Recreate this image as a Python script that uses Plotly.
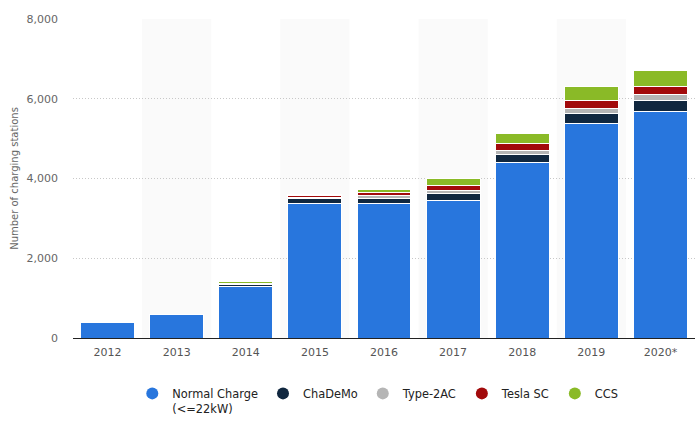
import plotly.graph_objects as go

years = ["2012", "2013", "2014", "2015", "2016", "2017", "2018", "2019", "2020*"]
normal = [400, 600, 1300, 3380, 3380, 3450, 4400, 5380, 5680]
chademo = [0, 0, 40, 110, 120, 175, 200, 250, 275]
type2ac = [0, 0, 15, 40, 70, 75, 100, 125, 150]
tesla = [0, 0, 15, 40, 80, 125, 175, 200, 200]
ccs = [0, 0, 40, 40, 70, 175, 250, 350, 400]

series = [
    ("Normal Charge<br>(<=22kW)", normal, "#2876dd"),
    ("ChaDeMo", chademo, "#10273f"),
    ("Type-2AC", type2ac, "#b5b5b5"),
    ("Tesla SC", tesla, "#a20a0b"),
    ("CCS", ccs, "#8aba27"),
]

fig = go.Figure()
for name, vals, col in series:
    fig.add_trace(go.Bar(x=years, y=vals, name=name, marker=dict(color=col, line=dict(color="white", width=1)),
                         width=0.78, showlegend=False))
for name, vals, col in series:
    fig.add_trace(go.Scatter(x=[None], y=[None], mode="markers", name=name,
                             marker=dict(color=col, size=12, symbol="circle")))

shapes = []
for i in range(len(years)):
    if i % 2 == 1:
        shapes.append(dict(type="rect", xref="x", yref="paper", x0=i - 0.5, x1=i + 0.5, y0=0, y1=1,
                           fillcolor="#fafafa", line=dict(width=0), layer="below"))

fig.update_layout(
    barmode="stack",
    width=700, height=439,
    margin=dict(l=73, r=5, t=19, b=101),
    plot_bgcolor="white", paper_bgcolor="white",
    font=dict(family="DejaVu Sans", size=11, color="#555555"),
    shapes=shapes,
    legend=dict(orientation="h", x=0.49, xanchor="center", y=-0.13, yanchor="top", valign="top",
                font=dict(size=11.4, color="#222222"), itemsizing="constant", itemwidth=30,
                traceorder="normal"),
    xaxis=dict(type="category", showgrid=False, ticks="", tickfont=dict(size=11, color="#555555"),
               range=[-0.5, 8.5], showline=False, ticklabelstandoff=6),
    yaxis=dict(range=[0, 8000], dtick=2000, tickformat=",", showgrid=True, gridcolor="#c8c8c8",
               griddash="1px,2px", gridwidth=1, zeroline=True, zerolinecolor="#222222", zerolinewidth=1,
               ticks="", ticklabelstandoff=14, tickfont=dict(size=11, color="#666666"),
               title=dict(text="Number of charging stations", font=dict(size=10, color="#666666"), standoff=6)),
)

fig.write_html("out.html")
